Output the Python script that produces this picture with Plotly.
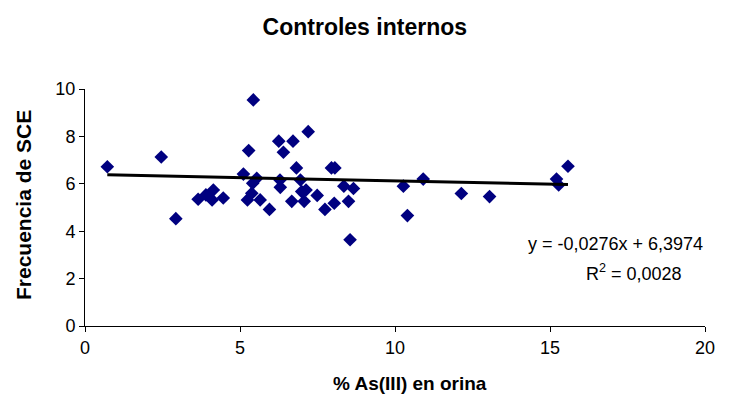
import plotly.graph_objects as go

as_iii = [0.72, 2.46, 2.93, 3.65, 3.9, 4.14, 4.1, 4.46, 5.43, 5.11, 5.28, 5.24,
          5.38, 5.41, 5.54, 5.65, 5.95, 6.25, 6.4, 6.29, 6.3, 6.71, 6.82, 6.67,
          6.95, 6.99, 7.13, 7.07, 7.2, 7.49, 7.74, 8.04, 7.95, 8.06, 8.35, 8.66,
          8.5, 8.55, 10.27, 10.4, 10.91, 12.14, 13.05, 15.21, 15.28, 15.58]
sce = [6.72, 7.13, 4.53, 5.35, 5.53, 5.74, 5.32, 5.4, 9.54, 6.41, 7.4, 5.32,
       5.6, 6.02, 6.23, 5.32, 4.92, 7.8, 7.33, 6.16, 5.85, 7.8, 6.67, 5.26,
       6.16, 5.67, 5.74, 5.26, 8.2, 5.51, 4.92, 5.18, 6.67, 6.67, 5.9, 5.8,
       5.26, 3.64, 5.9, 4.66, 6.2, 5.59, 5.46, 6.2, 5.95, 6.74]

slope = -0.0276
intercept = 6.3974
r2_text = "0,0028"

x_ticks = [0, 5, 10, 15, 20]
y_ticks = [0, 2, 4, 6, 8, 10]

FONT = "Liberation Sans, Arial, sans-serif"
L, R, T, B = 85, 705, 89, 326
PW, PH = R - L, B - T

xl = [min(as_iii), max(as_iii)]
yl = [slope * v + intercept for v in xl]

fig = go.Figure()
fig.add_trace(go.Scatter(x=as_iii, y=sce, mode="markers",
                         marker=dict(symbol="diamond", size=10.5, color="#000080",
                                     line=dict(width=0)),
                         showlegend=False))
fig.add_trace(go.Scatter(x=xl, y=yl, mode="lines",
                         line=dict(color="black", width=3), showlegend=False))

fig.update_layout(
    width=734, height=405,
    margin=dict(l=L, r=734 - R, t=T, b=405 - B),
    paper_bgcolor="white", plot_bgcolor="white",
    font=dict(family=FONT, size=18, color="black"),
    title=dict(text="<b>Controles internos</b>", x=0.497, xanchor="center",
               y=0.933, yanchor="middle", font=dict(size=23, family=FONT)),
    xaxis=dict(range=[0, 20], tickvals=x_ticks, showgrid=False, zeroline=False,
               showline=True, linecolor="black", linewidth=1,
               ticks="outside", ticklen=5, tickcolor="black"),
    yaxis=dict(range=[0, 10], tickvals=y_ticks, showgrid=False, zeroline=False,
               showline=True, linecolor="black", linewidth=1,
               ticks="outside", ticklen=5, tickcolor="black"),
)

# axis titles
fig.add_annotation(xref="paper", yref="paper", x=(410 - L) / PW, y=(B - 383) / PH,
                   xanchor="center", yanchor="middle", showarrow=False,
                   text="<b>% As(III) en orina</b>", font=dict(size=19))
fig.add_annotation(xref="paper", yref="paper", x=(23 - L) / PW, y=(B - 205) / PH,
                   xanchor="center", yanchor="middle", showarrow=False, textangle=-90,
                   text="<b>Frecuencia de SCE</b>", font=dict(size=21))

# trendline equation
fig.add_annotation(xref="paper", yref="paper", x=1.0, y=(B - 244) / PH,
                   xanchor="right", yanchor="middle", showarrow=False,
                   text="y = -0,0276x + 6,3974", font=dict(size=18))
fig.add_annotation(xref="paper", yref="paper", x=(634 - L) / PW, y=(B - 272) / PH,
                   xanchor="center", yanchor="middle", showarrow=False,
                   text="R<sup>2</sup> = " + r2_text, font=dict(size=18))

fig.write_html("out.html")
